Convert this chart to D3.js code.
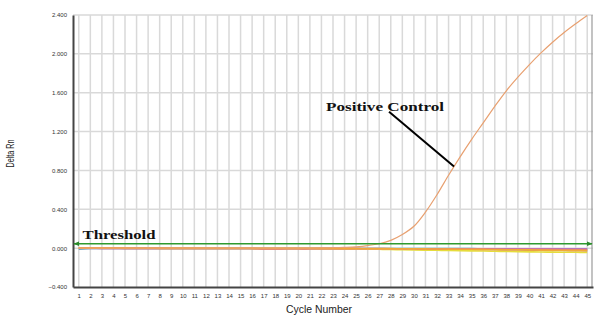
<!DOCTYPE html>
<html>
<head>
<meta charset="utf-8">
<script src="https://cdn.jsdelivr.net/npm/d3@7"></script>
<style>
  html, body { margin: 0; padding: 0; background: #fff; }
  svg { display: block; }
</style>
</head>
<body>
<svg id="chart" width="599" height="322"></svg>
<script>
// Amplification plot: Delta Rn per PCR cycle
const cycles = d3.range(1, 46);
const yTicks = [-0.4, 0, 0.4, 0.8, 1.2, 1.6, 2.0, 2.4];
const thresholdValue = 0.045;

const positiveControl = [0.000, 0.000, 0.001, 0.001, 0.001, 0.001, 0.001, 0.001, 0.001, 0.001,
  0.001, 0.001, 0.001, 0.001, 0.001, 0.001, 0.001, 0.001, 0.001, 0.001,
  0.001, 0.002, 0.004, 0.008, 0.014, 0.026, 0.045, 0.080, 0.140, 0.225,
  0.370, 0.550, 0.750, 0.940, 1.120, 1.290, 1.460, 1.620, 1.760, 1.890,
  2.010, 2.120, 2.220, 2.310, 2.395];

const sampleYellow = [0.003, 0.002, 0.000, -0.001, -0.001, -0.001, -0.001, -0.002, -0.002, -0.002,
  -0.002, -0.002, -0.003, -0.003, -0.003, -0.003, -0.003, -0.004, -0.004, -0.004,
  -0.004, -0.005, -0.006, -0.008, -0.009, -0.010, -0.012, -0.014, -0.016, -0.018,
  -0.020, -0.022, -0.024, -0.026, -0.028, -0.030, -0.032, -0.034, -0.036, -0.038,
  -0.040, -0.041, -0.042, -0.043, -0.045];

const sampleBrown = [0.000, -0.001, -0.001, -0.001, -0.002, -0.002, -0.002, -0.002, -0.002, -0.002,
  -0.002, -0.003, -0.003, -0.003, -0.003, -0.003, -0.003, -0.003, -0.004, -0.004,
  -0.004, -0.004, -0.004, -0.005, -0.005, -0.006, -0.006, -0.007, -0.008, -0.009,
  -0.010, -0.011, -0.012, -0.013, -0.015, -0.016, -0.017, -0.018, -0.019, -0.020,
  -0.022, -0.024, -0.025, -0.026, -0.028];

const sampleOrange = [0.000, 0.000, 0.000, 0.000, 0.000, -0.001, -0.001, -0.001, -0.001, -0.001,
  -0.001, -0.001, -0.001, -0.001, -0.001, -0.002, -0.002, -0.002, -0.002, -0.002,
  -0.002, -0.002, -0.002, -0.002, -0.003, -0.003, -0.004, -0.005, -0.006, -0.007,
  -0.008, -0.009, -0.010, -0.011, -0.012, -0.013, -0.014, -0.016, -0.017, -0.018,
  -0.020, -0.021, -0.022, -0.023, -0.024];

const samplePink = [0.000, 0.000, -0.002, -0.002, -0.002, -0.002, -0.002, -0.002, -0.003, -0.003,
  -0.003, -0.003, -0.003, -0.003, -0.003, -0.004, -0.008, -0.008, -0.007, -0.007,
  -0.007, -0.005, -0.005, -0.005, -0.005, -0.006, -0.006, -0.006, -0.007, -0.007,
  -0.008, -0.008, -0.009, -0.009, -0.010, -0.010, -0.011, -0.011, -0.012, -0.012,
  -0.013, -0.013, -0.014, -0.014, -0.015];

const samplePurple = [-0.002, -0.002, -0.002, -0.002, -0.003, -0.003, -0.003, -0.003, -0.003, -0.003,
  -0.003, -0.003, -0.003, -0.003, -0.003, -0.003, -0.003, -0.003, -0.004, -0.004,
  -0.004, -0.004, -0.004, -0.004, -0.004, -0.004, -0.005, -0.006, -0.006, -0.006,
  -0.006, -0.006, -0.006, -0.007, -0.007, -0.007, -0.007, -0.007, -0.008, -0.008,
  -0.008, -0.008, -0.008, -0.008, -0.008];

const sampleTeal = [-0.012, -0.004, -0.003, -0.003, -0.003, -0.003, -0.003, -0.003, -0.003, -0.003,
  -0.003, -0.003, -0.003, -0.003, -0.003, -0.003, -0.003, -0.003, -0.003, -0.003,
  -0.003, -0.003, -0.003, -0.003, -0.003, -0.003, -0.003, -0.004, -0.004, -0.004,
  -0.004, -0.005, -0.005, -0.005, -0.005, -0.006, -0.006, -0.006, -0.006, -0.007,
  -0.007, -0.007, -0.006, -0.006, -0.006];

// Drawing order: later series sit on top
const seriesNames = ["teal", "purple", "brown", "yellow", "pink", "orange", "control"];
const seriesValues = [sampleTeal, samplePurple, sampleBrown, sampleYellow, samplePink, sampleOrange, positiveControl];
const seriesColors = ["#48b4c4", "#a677c9", "#c9906a", "#e6dc3c", "#e6738a", "#f2a83a", "#e8a070"];

// Annotation pointer in data units (cycle, Delta Rn)
const pointerFrom = [27.85, 1.405];
const pointerTo = [33.47, 0.84];

const margin = { left: 73, top: 15, right: 6, bottom: 35 };
const width = 599, height = 322;
const svg = d3.select("#chart");

const x = d3.scaleLinear().domain([0.5, 45.5]).range([margin.left, width - margin.right]);
const y = d3.scaleLinear().domain([-0.4, 2.4]).range([height - margin.bottom, margin.top]);

const gridColor = "#d9d9d9";

// Vertical grid at every cycle
svg.append("g")
  .selectAll("line")
  .data(cycles)
  .join("line")
  .attr("x1", d => x(d)).attr("x2", d => x(d))
  .attr("y1", y(2.4)).attr("y2", y(-0.4))
  .attr("stroke", gridColor).attr("stroke-width", 1.5);

// Horizontal grid at every y tick
svg.append("g")
  .selectAll("line")
  .data(yTicks.filter(d => d > -0.4))
  .join("line")
  .attr("x1", x(0.5)).attr("x2", x(45.5))
  .attr("y1", d => y(d)).attr("y2", d => y(d))
  .attr("stroke", gridColor).attr("stroke-width", 1.5);

// Right frame edge
svg.append("line")
  .attr("x1", x(45.5) - 1).attr("x2", x(45.5) - 1)
  .attr("y1", y(2.4)).attr("y2", y(-0.4))
  .attr("stroke", "#9a9a9a").attr("stroke-width", 1.2);

// Axes
const yAxis = d3.axisLeft(y).tickValues(yTicks).tickFormat(d3.format(".3f")).tickSize(0).tickPadding(6);
const gy = svg.append("g").attr("transform", `translate(${margin.left},0)`).call(yAxis);
gy.select(".domain").attr("stroke", "#444").attr("stroke-width", 2);
gy.selectAll("text").attr("font-family", "Liberation Sans, Arial, sans-serif").attr("font-size", 6).attr("fill", "#333");

const xAxis = d3.axisBottom(x).tickValues(cycles).tickFormat(d3.format("d")).tickSize(0).tickPadding(7);
const gx = svg.append("g").attr("transform", `translate(0,${y(-0.4)})`).call(xAxis);
gx.select(".domain").attr("stroke", "#444").attr("stroke-width", 2);
gx.selectAll("text").attr("font-family", "Liberation Sans, Arial, sans-serif").attr("font-size", 6).attr("fill", "#333");

// Axis titles
svg.append("text")
  .attr("transform", `translate(14,153.5) rotate(-90)`)
  .attr("text-anchor", "middle")
  .attr("font-family", "Liberation Sans, Arial, sans-serif")
  .attr("font-size", 10.5)
  .attr("textLength", 28).attr("lengthAdjust", "spacingAndGlyphs")
  .attr("fill", "#222")
  .text("Delta Rn");

svg.append("text")
  .attr("x", 319).attr("y", 313)
  .attr("text-anchor", "middle")
  .attr("font-family", "Liberation Sans, Arial, sans-serif")
  .attr("font-size", 10.5)
  .attr("textLength", 66).attr("lengthAdjust", "spacingAndGlyphs")
  .attr("fill", "#222")
  .text("Cycle Number");

// Sample curves
const line = d3.line()
  .x((d, i) => x(cycles[i]))
  .y(d => y(d))
  .curve(d3.curveCatmullRom.alpha(0.5));

svg.append("g")
  .selectAll("path")
  .data(seriesValues)
  .join("path")
  .attr("d", d => line(d))
  .attr("fill", "none")
  .attr("stroke", (d, i) => seriesColors[i])
  .attr("stroke-width", (d, i) => seriesNames[i] === "control" ? 1.2 : 1.6);

// Threshold line with arrowheads at both ends
const defs = svg.append("defs");
defs.append("marker")
  .attr("id", "arrow")
  .attr("viewBox", "0 0 10 10")
  .attr("refX", 9).attr("refY", 5)
  .attr("markerWidth", 4).attr("markerHeight", 4)
  .attr("orient", "auto-start-reverse")
  .append("path")
  .attr("d", "M0,1 L10,5 L0,9 Z")
  .attr("fill", "#2c8a2c");

svg.append("line")
  .attr("x1", x(0.5) + 1).attr("x2", x(45.5) - 1)
  .attr("y1", y(thresholdValue)).attr("y2", y(thresholdValue))
  .attr("stroke", "#2f9a2f").attr("stroke-width", 1.5)
  .attr("marker-start", "url(#arrow)")
  .attr("marker-end", "url(#arrow)");

// Labels
svg.append("text")
  .attr("x", 82.5).attr("y", 238.5)
  .attr("font-family", "Liberation Serif, Times New Roman, serif")
  .attr("font-weight", "bold")
  .attr("font-size", 13.5)
  .attr("textLength", 73).attr("lengthAdjust", "spacingAndGlyphs")
  .attr("fill", "#111")
  .text("Threshold");

svg.append("text")
  .attr("x", 326).attr("y", 110.5)
  .attr("font-family", "Liberation Serif, Times New Roman, serif")
  .attr("font-weight", "bold")
  .attr("font-size", 13.5)
  .attr("textLength", 118).attr("lengthAdjust", "spacingAndGlyphs")
  .attr("fill", "#111")
  .text("Positive Control");

svg.append("line")
  .attr("x1", x(pointerFrom[0])).attr("y1", y(pointerFrom[1]))
  .attr("x2", x(pointerTo[0])).attr("y2", y(pointerTo[1]))
  .attr("stroke", "#000").attr("stroke-width", 2);
</script>
</body>
</html>
